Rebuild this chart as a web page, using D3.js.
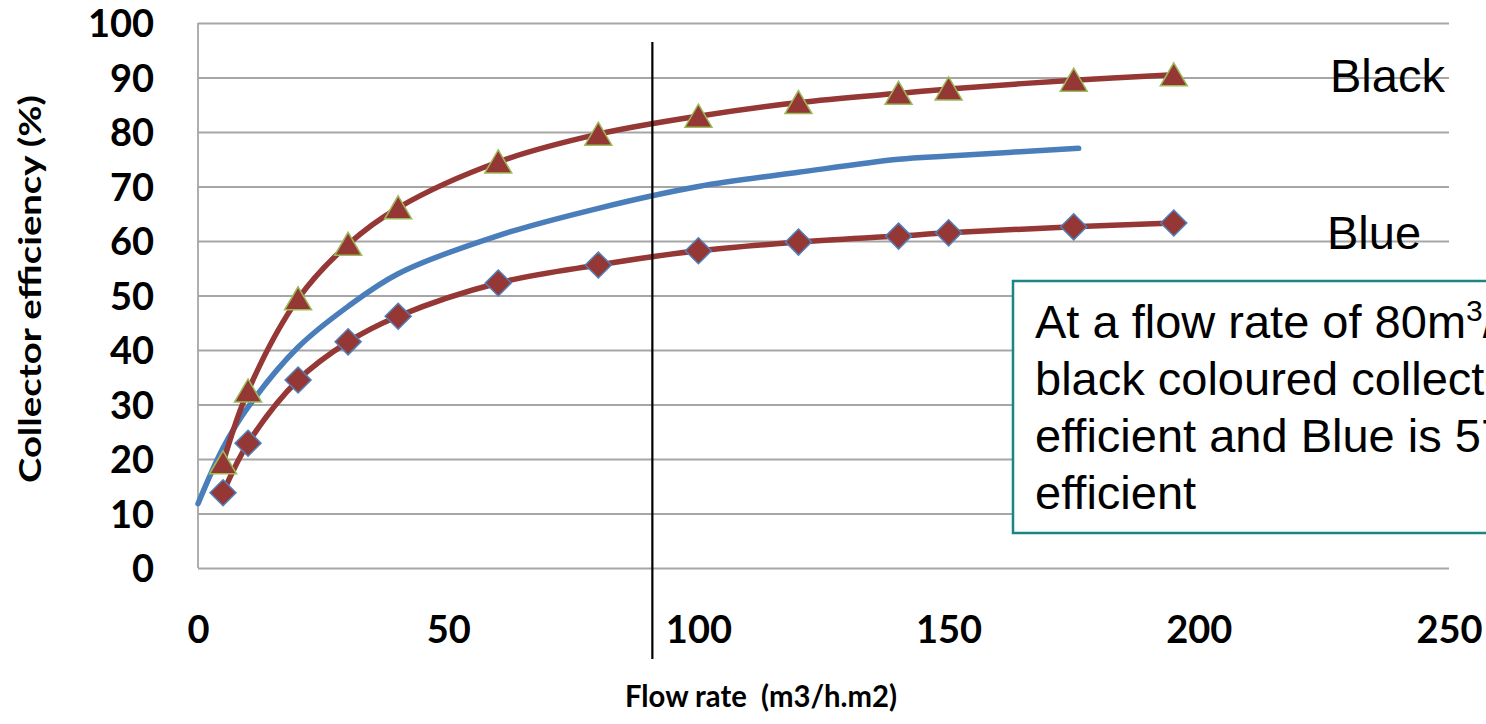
<!DOCTYPE html>
<html>
<head>
<meta charset="utf-8">
<script src="https://cdn.jsdelivr.net/npm/d3@7"></script>
<style>
  body { margin: 0; background: #fff; }
  svg { display: block; }
</style>
</head>
<body>
<div class="chart"></div>
<script>
// values
const flowRates = [5, 10, 20, 30, 40, 60, 80, 100, 120, 140, 150, 175, 195]
const blackEff = [19.3, 32.5, 49.4, 59.4, 66.1, 74.5, 79.6, 82.9, 85.4, 87.1, 87.9, 89.5, 90.5]
const blueEff = [13.8, 22.9, 34.5, 41.5, 46.2, 52.3, 55.6, 58.2, 59.8, 60.9, 61.5, 62.6, 63.3]

// smooth reference curve (no markers)
const refFlow = [0, 5, 10, 20, 30, 40, 60, 80, 100, 120, 140, 150, 176]
const refEff = [11.8, 22, 29.5, 40.5, 48, 54, 61, 66, 70, 72.6, 75, 75.6, 77]

const xTicks = [0, 50, 100, 150, 200, 250]
const yTicks = [0, 10, 20, 30, 40, 50, 60, 70, 80, 90, 100]
const markerLineX = 90.8

const noteLines = ['At a flow rate of 80m', 'black coloured collector is 80%', 'efficient and Blue is 57%', 'efficient']

const WIDTH = 1486
const HEIGHT = 724
const margin = {top: 23, right: 37, bottom: 156, left: 198}

const x = d3.scaleLinear().domain([0, 250]).range([margin.left, WIDTH - margin.right])
const y = d3.scaleLinear().domain([0, 100]).range([HEIGHT - margin.bottom, margin.top])

const svg = d3.select('.chart')
  .append('svg')
  .attr('width', WIDTH)
  .attr('height', HEIGHT)

// gridlines
svg.append('g')
  .attr('class', 'y-grid')
  .attr('transform', 'translate(' + margin.left + ',0)')
  .call(d3.axisLeft(y).tickValues(yTicks).tickSize(-(WIDTH - margin.left - margin.right)).tickFormat(''))
  .call(g => g.select('.domain').remove())
  .call(g => g.selectAll('line').attr('stroke', '#a6a6a6').attr('stroke-width', 1.8))

// left axis line
svg.append('line')
  .attr('x1', x(0)).attr('x2', x(0))
  .attr('y1', y(100)).attr('y2', y(0))
  .attr('stroke', '#a6a6a6').attr('stroke-width', 1.8)

// y tick labels
svg.append('g')
  .attr('transform', 'translate(' + (margin.left - 44) + ',0)')
  .call(d3.axisLeft(y).tickValues(yTicks).tickSize(0))
  .call(g => g.select('.domain').remove())
  .call(g => g.selectAll('text')
    .attr('x', 0)
    .attr('dy', '0.36em')
    .attr('fill', '#000')
    .style('font-family', 'Lato')
    .style('font-weight', 'bold')
    .style('font-size', '38px'))

// x tick labels
svg.append('g')
  .attr('transform', 'translate(0,' + y(0) + ')')
  .call(d3.axisBottom(x).tickValues(xTicks).tickSize(0))
  .call(g => g.select('.domain').remove())
  .call(g => g.selectAll('text')
    .attr('y', 75)
    .attr('dy', '0')
    .attr('fill', '#000')
    .style('font-family', 'Lato')
    .style('font-weight', 'bold')
    .style('font-size', '38px'))

// axis titles
svg.append('text')
  .attr('x', 625)
  .attr('y', 707)
  .attr('textLength', 272)
  .attr('lengthAdjust', 'spacingAndGlyphs')
  .style('white-space', 'pre')
  .style('font-family', 'Lato')
  .style('font-size', '31px')
  .style('font-weight', 'bold')
  .text('Flow rate  (m3/h.m2)')

svg.append('text')
  .attr('transform', 'translate(41,289) rotate(-90)')
  .attr('text-anchor', 'middle')
  .attr('textLength', 388)
  .attr('lengthAdjust', 'spacingAndGlyphs')
  .style('font-family', 'Lato')
  .style('font-size', '31px')
  .style('font-weight', 'bold')
  .text('Collector efficiency (%)')

const line = d3.line()
  .x(d => x(d[0]))
  .y(d => y(d[1]))
  .curve(d3.curveCatmullRom.alpha(0.5))

const blackData = d3.zip(flowRates, blackEff)
const blueData = d3.zip(flowRates, blueEff)
const refData = d3.zip(refFlow, refEff)

svg.append('path')
  .datum(refData)
  .attr('d', line)
  .attr('fill', 'none')
  .attr('stroke', '#4a7ebb')
  .attr('stroke-width', 5.5)
  .attr('stroke-linecap', 'round')

svg.append('path')
  .datum(blackData)
  .attr('d', line)
  .attr('fill', 'none')
  .attr('stroke', '#953735')
  .attr('stroke-width', 5.5)

svg.append('path')
  .datum(blueData)
  .attr('d', line)
  .attr('fill', 'none')
  .attr('stroke', '#953735')
  .attr('stroke-width', 5.5)

// triangles
svg.selectAll('.tri')
  .data(blackData)
  .enter()
  .append('path')
  .attr('class', 'tri')
  .attr('transform', d => 'translate(' + x(d[0]) + ',' + y(d[1]) + ')')
  .attr('d', 'M0,-12L13.5,11L-13.5,11Z')
  .attr('fill', '#953735')
  .attr('stroke', '#9bbb59')
  .attr('stroke-width', 1.5)

// diamonds
svg.selectAll('.dia')
  .data(blueData)
  .enter()
  .append('path')
  .attr('class', 'dia')
  .attr('transform', d => 'translate(' + x(d[0]) + ',' + y(d[1]) + ')')
  .attr('d', 'M0,-13L13,0L0,13L-13,0Z')
  .attr('fill', '#953735')
  .attr('stroke', '#4f81bd')
  .attr('stroke-width', 1.5)

// vertical marker line
svg.append('line')
  .attr('x1', x(markerLineX)).attr('x2', x(markerLineX))
  .attr('y1', 42).attr('y2', 659)
  .attr('stroke', '#000').attr('stroke-width', 2.2)

// series labels
svg.append('text')
  .attr('x', 1330).attr('y', 92)
  .style('font-family', 'Liberation Sans, Arial')
  .style('font-size', '47px')
  .text('Black')

svg.append('text')
  .attr('x', 1327).attr('y', 249)
  .style('font-family', 'Liberation Sans, Arial')
  .style('font-size', '47px')
  .text('Blue')

// note box
svg.append('rect')
  .attr('x', 1013).attr('y', 281)
  .attr('width', 600).attr('height', 252)
  .attr('fill', '#fff')
  .attr('stroke', '#1a8585')
  .attr('stroke-width', 2.5)

const note = svg.append('text')
  .style('font-family', 'Liberation Sans, Arial')
  .style('font-size', '47px')
  .style('white-space', 'pre')

noteLines.forEach((t, i) => {
  note.append('tspan')
    .attr('x', 1035)
    .attr('y', 338 + i * 57)
    .text(t)
  if (i === 0) {
    note.append('tspan')
      .attr('dy', -17)
      .style('font-size', '30px')
      .text('3')
    note.append('tspan')
      .attr('dy', 17)
      .text('/h.m')
  }
})
</script>
</body>
</html>
